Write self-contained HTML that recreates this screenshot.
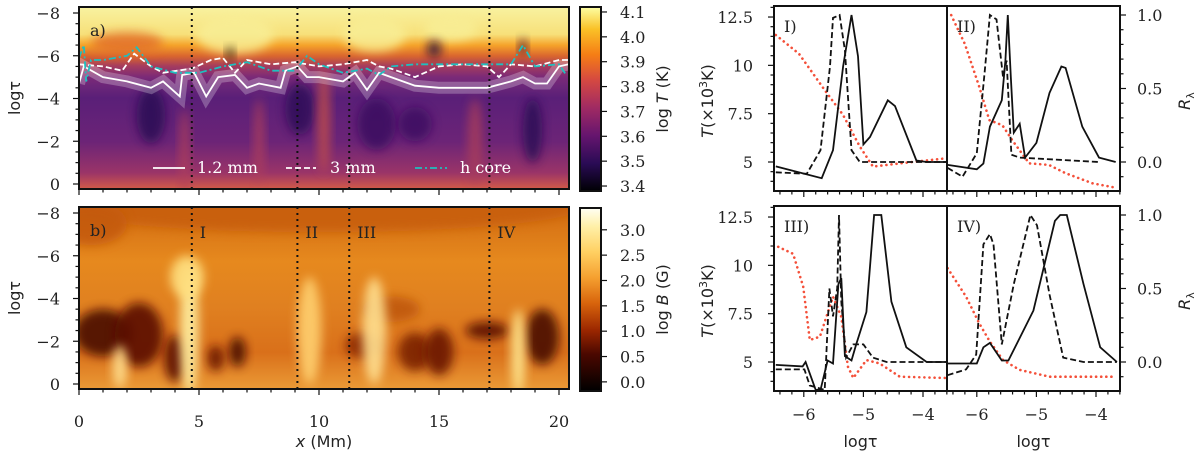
<!DOCTYPE html>
<html><head><meta charset="utf-8"><style>
html,body{margin:0;padding:0;background:#fff;}
svg{display:block;}
text{font-family:"DejaVu Serif","Liberation Serif",serif;font-size:16px;fill:#222;}
.sans{font-family:"DejaVu Sans","Liberation Sans",sans-serif;}
</style></head><body>
<svg id="fig" width="1200" height="460" viewBox="0 0 1200 460" xmlns="http://www.w3.org/2000/svg">
<defs>
<linearGradient id="gA" x1="0" y1="0" x2="0" y2="1">
<stop offset="0" stop-color="#f8f2a0"/><stop offset="0.15" stop-color="#f7e07a"/><stop offset="0.21" stop-color="#f5a32a"/><stop offset="0.27" stop-color="#d9652e"/><stop offset="0.325" stop-color="#a53c5e"/><stop offset="0.385" stop-color="#7b2a78"/><stop offset="0.44" stop-color="#6a2679"/><stop offset="0.5" stop-color="#5a1f78"/><stop offset="0.74" stop-color="#6c2477"/><stop offset="0.91" stop-color="#9a3468"/><stop offset="1" stop-color="#d25a48"/>
</linearGradient>
<linearGradient id="gB" x1="0" y1="0" x2="0" y2="1">
<stop offset="0" stop-color="#d26c12"/><stop offset="0.3" stop-color="#e6891e"/><stop offset="0.55" stop-color="#e08020"/><stop offset="0.8" stop-color="#d9701a"/><stop offset="1" stop-color="#eb9a36"/>
</linearGradient>
<linearGradient id="cbA" x1="0" y1="1" x2="0" y2="0">
<stop offset="0" stop-color="#000004"/><stop offset="0.15" stop-color="#2a0b55"/><stop offset="0.3" stop-color="#65156e"/><stop offset="0.45" stop-color="#9f2a63"/><stop offset="0.6" stop-color="#d44842"/><stop offset="0.74" stop-color="#f57d15"/><stop offset="0.88" stop-color="#fac127"/><stop offset="1" stop-color="#fcffa4"/>
</linearGradient>
<linearGradient id="cbB" x1="0" y1="1" x2="0" y2="0">
<stop offset="0" stop-color="#000000"/><stop offset="0.2" stop-color="#4a0800"/><stop offset="0.33" stop-color="#9a2600"/><stop offset="0.48" stop-color="#d8640c"/><stop offset="0.62" stop-color="#f5a030"/><stop offset="0.76" stop-color="#ffd062"/><stop offset="0.9" stop-color="#fff0a8"/><stop offset="1" stop-color="#fffff4"/>
</linearGradient>
<filter id="blur" x="-50%" y="-50%" width="200%" height="200%"><feGaussianBlur stdDeviation="5"/></filter>
<clipPath id="clipA"><rect x="79" y="7" width="490" height="182"/></clipPath>
<clipPath id="clipB"><rect x="79" y="207" width="490" height="182"/></clipPath>
</defs>
<g id="root"></g>
</svg>
<script>
// ---- Panel a line data (x in Mm, log tau) ----
const mm12X = [0,0.2,1,2,3,3.5,4.2,4.3,4.8,5.3,5.8,6.5,7,7.5,8.4,8.6,9.1,9.5,10,11,11.5,12,12.5,13,14,15,16,17,18,18.5,19,19.5,20,20.4];
const mm12T = [-4.7,-5.5,-5.0,-4.8,-4.5,-4.8,-4.1,-5.1,-5.2,-4.1,-5.0,-5.1,-4.5,-4.7,-4.5,-5.3,-5.5,-5.0,-5.0,-4.8,-5.2,-4.4,-5.2,-5.0,-4.6,-4.5,-4.5,-4.5,-4.8,-5.0,-4.7,-4.7,-5.5,-5.6];
const mm3X = [0,1,1.8,2.3,3,3.5,4.7,5.5,6,6.5,7,8,9,10,11,12,12.5,13,14,15,16,17,17.5,18,19,20,20.4];
const mm3T = [-5.6,-5.5,-5.3,-6.1,-5.5,-5.2,-5.4,-5.8,-5.9,-5.2,-5.8,-5.6,-5.7,-5.5,-5.6,-5.8,-5.5,-5.4,-5.0,-5.5,-5.6,-5.5,-5.0,-5.6,-5.5,-5.8,-5.8];
const hX = [0,0.2,0.3,0.5,1,2,2.4,3,4,5,6,7,8,9,9.5,10,11,12,12.5,13,14,15,17,18,18.5,19,20,20.3];
const hT = [-5.9,-6.5,-4.8,-5.8,-5.8,-6.0,-6.4,-5.5,-5.2,-5.2,-5.5,-5.7,-5.3,-5.3,-6.0,-5.6,-5.2,-5.4,-5.1,-5.5,-5.6,-5.6,-5.6,-5.6,-6.5,-5.5,-5.6,-5.1];
const cutX = [4.7,9.1,11.26,17.1];
const cutNames = ["I","II","III","IV"];
const xTicks = [0,5,10,15,20];
const yTicks = [-8,-6,-4,-2,0];
const cbATicks = [3.4,3.5,3.6,3.7,3.8,3.9,4.0,4.1];
const cbBTicks = [0.0,0.5,1.0,1.5,2.0,2.5,3.0];

// ---- Right panels data (log tau) ----
const p1RedX=[-6.47,-6.08,-5.65,-5.34,-5.06,-4.84,-4.39,-3.61];
const p1RedT=[11.57,10.6,8.72,7.43,5.8,4.76,4.93,5.19];
const p1SolX=[-6.47,-5.70,-5.51,-5.34,-5.20,-5.09,-5.00,-4.89,-4.59,-4.47,-4.11,-3.94,-3.61];
const p1SolR=[-0.03,-0.11,0.08,0.65,1.0,0.72,0.12,0.17,0.42,0.38,0.01,0,0];
const p1DasX=[-6.47,-5.95,-5.72,-5.56,-5.51,-5.40,-5.31,-5.20,-5.06,-3.61];
const p1DasR=[-0.07,-0.08,0.08,0.65,0.98,1.0,0.76,0.08,0.0,0.0];

const p2RedX=[-6.43,-6.2,-5.96,-5.79,-5.57,-5.40,-5.12,-4.79,-4.51,-4.06,-3.67];
const p2RedT=[12.6,11.1,8.9,7.17,6.9,6.1,4.93,4.85,4.42,3.9,3.67];
const p2SolX=[-6.49,-6.0,-5.89,-5.78,-5.58,-5.52,-5.48,-5.43,-5.38,-5.28,-5.19,-5.0,-4.78,-4.58,-4.51,-4.23,-3.95,-3.67];
const p2SolR=[-0.02,-0.05,-0.01,0.24,0.42,0.69,1.0,0.58,0.2,0.26,0.03,0.13,0.47,0.65,0.64,0.24,0.03,0];
const p2DasX=[-6.49,-6.24,-6.0,-5.87,-5.78,-5.67,-5.56,-5.50,-5.42,-5.28,-3.95];
const p2DasR=[-0.04,-0.1,0.06,0.6,1.0,0.97,0.58,0.69,0.05,0.03,0];

const p3RedX=[-6.43,-6.18,-6.01,-5.9,-5.73,-5.51,-5.37,-5.26,-5.17,-4.95,-4.73,-4.39,-3.61];
const p3RedT=[10.96,10.6,8.9,6.14,6.31,8.38,7.34,4.76,4.17,5.1,4.93,4.24,4.17];
const p3SolX=[-6.47,-6.02,-5.97,-5.8,-5.72,-5.6,-5.51,-5.42,-5.37,-5.31,-5.2,-5.12,-4.95,-4.82,-4.7,-4.53,-4.28,-3.94,-3.61];
const p3SolR=[-0.02,-0.03,0,-0.19,-0.19,0.01,-0.01,0.53,0.57,0.04,0.01,0.12,0.34,1.0,1.0,0.41,0.1,0,0];
const p3DasX=[-6.47,-5.99,-5.9,-5.65,-5.57,-5.51,-5.44,-5.41,-5.37,-5.29,-5.17,-5.0,-4.84,-4.61,-3.61];
const p3DasR=[-0.05,-0.05,-0.16,-0.19,0.5,0.31,0.5,1.0,0.41,0.03,0.12,0.12,0.03,0,0];

const p4RedX=[-6.49,-6.18,-5.96,-5.78,-5.56,-5.28,-4.78,-4.22,-3.67];
const p4RedT=[9.85,8.38,7.0,6.05,5.1,4.59,4.24,4.24,4.24];
const p4SolX=[-6.49,-6.0,-5.89,-5.78,-5.58,-5.47,-5.05,-4.69,-4.6,-4.49,-4.21,-3.93,-3.65];
const p4SolR=[-0.01,-0.01,0.1,0.13,0.01,0.01,0.35,0.96,1.0,1.0,0.53,0.1,0];
const p4DasX=[-6.49,-6.18,-6.01,-5.89,-5.78,-5.72,-5.58,-5.38,-5.1,-4.99,-4.78,-4.55,-4.21,-3.65];
const p4DasR=[-0.09,-0.05,0.05,0.8,0.87,0.8,0.12,0.53,1.0,0.93,0.46,0.03,0,0];

const rTicksX=[-6,-5,-4];
const tTicks=[5,7.5,10,12.5];
const rTicks=[0.0,0.5,1.0];

const NS="http://www.w3.org/2000/svg";
const root=document.getElementById('root');
function mk(tag,attrs,parent){const e=document.createElementNS(NS,tag);for(const k in attrs)e.setAttribute(k,attrs[k]);(parent||root).appendChild(e);return e;}
function txt(s,x,y,anchor,parent,cls){const t=mk('text',{x:x,y:y,'text-anchor':anchor||'start'},parent);if(cls)t.setAttribute('class',cls);t.textContent=s;return t;}
function fmt(v,d){let s=v.toFixed(d);return s.replace('-','\u2212');}

const L0=79;
const sx=x=>L0+24*x;
const syA=t=>184+21.375*t;
const syB=t=>384+21.375*t;

// ---------- Panel a heatmap ----------
const gA=mk('g',{'clip-path':'url(#clipA)'});


mk('rect',{x:79,y:7,width:490,height:182,fill:'url(#gA)'},gA);
const blobsA=[[6.5,-7,1.6,0.9,'#f8ee95'],[12.3,-7,1.3,0.8,'#f8ee95'],[15.5,-7.3,1.1,0.6,'#f8ee95'],[2,-6.6,1.5,0.5,'#e2702a'],[3,-3.2,0.6,1.3,'#2a0a55'],[9.2,-3.5,0.6,1.2,'#2d0b58'],[12.4,-2.8,0.8,1.2,'#3a0f60'],[18.9,-2.5,0.4,1.5,'#2a0a55'],[14,-2.8,0.7,0.8,'#3d1062'],[10.2,-3,0.25,2.5,'#c4504a'],[7.5,-2,0.2,2,'#b0405a'],[4.4,-1.5,0.2,2,'#b0405a'],[16.5,-2,0.3,2,'#a83c5c'],[6.3,-6.1,0.15,0.3,'#100010'],[14.8,-6.3,0.3,0.4,'#2a0a40'],[18.5,-6.4,0.15,0.4,'#2a0a40']];
blobsA.forEach(b=>mk('ellipse',{cx:sx(b[0]),cy:syA(b[1]),rx:b[2]*24,ry:b[3]*21.4,fill:b[4],filter:'url(#blur)',opacity:0.85},gA));

// ---------- Panel b heatmap ----------
const gB=mk('g',{'clip-path':'url(#clipB)'});


mk('rect',{x:79,y:207,width:490,height:182,fill:'url(#gB)'},gB);
const blobsB=[[10,-8.3,11,1.2,'#c85e0a'],[1.0,-2.4,1.2,1.1,'#4a0800'],[2.5,-2.3,1.0,1.5,'#5a0c00'],[4.0,-1.2,0.45,1.1,'#5a0c00'],[6.6,-1.5,0.35,0.7,'#4a0800'],[5.7,-1.2,0.35,0.6,'#6a1400'],[11.8,-1.8,0.7,0.6,'#8a2804'],[14,-1.5,0.7,0.9,'#7a2000'],[15,-1.5,0.6,1.1,'#6a1800'],[17,-2.5,0.9,0.4,'#5a1000'],[19.3,-2.2,0.7,1.3,'#4a0800'],[13,-3.5,1.2,0.6,'#c0580e'],[4.6,-2.5,0.4,3,'#fff0a0'],[4.5,-5,0.7,1.0,'#ffe080'],[9.6,-2.5,0.5,2.5,'#ffd070'],[12.3,-2.5,0.5,2.5,'#ffe090'],[18.3,-1.5,0.3,2,'#ffe890'],[1.7,-0.8,0.3,1,'#ffe090'],[0.5,-7.5,1.5,1,'#c45a0a']];
blobsB.forEach(b=>mk('ellipse',{cx:sx(b[0]),cy:syB(b[1]),rx:b[2]*24,ry:b[3]*21.4,fill:b[4],filter:'url(#blur)',opacity:0.9},gB));

// ---------- lines in panel a ----------
function pathFrom(xs,ys,fx,fy){return xs.map((x,i)=>(i?'L':'M')+fx(x).toFixed(1)+','+fy(ys[i]).toFixed(1)).join(' ');}
const shade=mk('path',{d:pathFrom(mm12X,mm12T,sx,syA),fill:'none',stroke:'#ffffff','stroke-opacity':0.25,'stroke-width':12,'clip-path':'url(#clipA)'});


const l12=mk('path',{d:pathFrom(mm12X,mm12T,sx,syA),fill:'none',stroke:'#fff','stroke-width':1.8,'clip-path':'url(#clipA)'});


const l3=mk('path',{d:pathFrom(mm3X,mm3T,sx,syA),fill:'none',stroke:'#fff','stroke-width':1.8,'stroke-dasharray':'6,3','clip-path':'url(#clipA)'});


const lh=mk('path',{d:pathFrom(hX,hT,sx,syA),fill:'none',stroke:'#1fbfbf','stroke-width':1.8,'stroke-dasharray':'7,3,2,3','clip-path':'url(#clipA)'});



// legend
const leg=mk('g',{});


mk('line',{x1:153,y1:168,x2:185,y2:168,stroke:'#fff','stroke-width':1.8},leg);
txt('1.2 mm',197,173,'start',leg);
mk('line',{x1:286,y1:168,x2:316,y2:168,stroke:'#fff','stroke-width':1.8,'stroke-dasharray':'6,3'},leg);
txt('3 mm',330,173,'start',leg);
mk('line',{x1:415,y1:168,x2:447,y2:168,stroke:'#1fbfbf','stroke-width':1.8,'stroke-dasharray':'7,3,2,3'},leg);
txt('h core',460,173,'start',leg);
leg.querySelectorAll('text').forEach(t=>t.style.fill='#fff');

// cut lines
cutX.forEach((c,i)=>{
  const l=mk('line',{x1:sx(c),y1:7,x2:sx(c),y2:189,stroke:'#111','stroke-width':2,'stroke-dasharray':'2,4'});
  
  
  const l2=mk('line',{x1:sx(c),y1:207,x2:sx(c),y2:389,stroke:'#111','stroke-width':2,'stroke-dasharray':'2,4'});
  
  
  const t=txt(cutNames[i],sx(c)+8,238,'start');
  
  
});

// frames and ticks left
[[7,syA,'a'],[207,syB,'b']].forEach(([top,fy,nm])=>{
  const f=mk('rect',{x:79,y:top,width:490,height:182,fill:'none',stroke:'#111','stroke-width':2});
  
  
  for(let v=-8;v<=0.01;v+=0.5){const maj=Math.abs(v-Math.round(v/2)*2)<0.01;mk('line',{x1:79,x2:79-(maj?6:3.5),y1:fy(v),y2:fy(v),stroke:'#111','stroke-width':1.2});}
  yTicks.forEach(v=>{const t=txt(fmt(v,0),60,fy(v)+6,'end');});
  for(let x=0;x<=20;x++){const maj=x%5===0;mk('line',{x1:sx(x),x2:sx(x),y1:top+182,y2:top+182+(maj?6:3.5),stroke:'#111','stroke-width':1.2});}
  const yl=txt('log\u03c4',0,0,'middle',null,'sans');
  yl.setAttribute('transform','translate(20,'+(top+91)+') rotate(-90)');
  
  
});
const la=txt('a)',90,36,'start');


const lb=txt('b)',90,236,'start');


xTicks.forEach(v=>{const t=txt(String(v),sx(v),427,'middle');});
const xt=mk('text',{x:324,y:447,'text-anchor':'middle',class:'sans'});
xt.innerHTML='<tspan font-style="italic">x</tspan> (Mm)';



// colorbars
function colorbar(top,bot,lo,hi,ticks,grad,label,nm){
  const g=mk('g',{});
  
  
  mk('rect',{x:580,y:top,width:21,height:bot-top,fill:'url(#'+grad+')',stroke:'#111','stroke-width':2},g);
  const fy=v=>bot-(v-lo)/(hi-lo)*(bot-top);
  ticks.forEach(v=>{mk('line',{x1:601,x2:607,y1:fy(v),y2:fy(v),stroke:'#111','stroke-width':1.2},g);txt(v.toFixed(1),620,fy(v)+6,'start',g);});
  const t=mk('text',{'text-anchor':'middle',class:'sans',transform:'translate(668,'+((top+bot)/2)+') rotate(-90)'},g);
  t.innerHTML=label;
}
colorbar(7,191,3.38,4.12,cbATicks,'cbA','log <tspan font-style="italic">T</tspan> (K)','temperature');
colorbar(208,391,-0.18,3.43,cbBTicks,'cbB','log <tspan font-style="italic">B</tspan> (G)','magnetic-field');

// ---------- right panels ----------
const RX=[774,947], RW=173, RT=[6,206], RH=185;
const rx=(v,c)=>RX[c]+(v+6.5)*59.6;
const ryT=(T,r)=>RT[r]+156-(T-5)*19.33;
const ryR=(R,r)=>RT[r]+156-R*147;
const panels=[
 ['I)',0,0,p1RedX,p1RedT,p1SolX,p1SolR,p1DasX,p1DasR],
 ['II)',1,0,p2RedX,p2RedT,p2SolX,p2SolR,p2DasX,p2DasR],
 ['III)',0,1,p3RedX,p3RedT,p3SolX,p3SolR,p3DasX,p3DasR],
 ['IV)',1,1,p4RedX,p4RedT,p4SolX,p4SolR,p4DasX,p4DasR]];
panels.forEach(p=>{
  const [lab,c,r,redX,redT,solX,solR,dasX,dasR]=p;
  const id='clip'+c+r;
  const cp=mk('clipPath',{id:id});mk('rect',{x:RX[c],y:RT[r],width:RW,height:RH},cp);
  const g=mk('g',{'clip-path':'url(#'+id+')'});
  
  
  const red=mk('path',{d:pathFrom(redX,redT,v=>rx(v,c),v=>ryT(v,r)),fill:'none',stroke:'#f4503a','stroke-width':2.6,'stroke-dasharray':'0.1,5','stroke-linecap':'round'},g);
  
  
  const sol=mk('path',{d:pathFrom(solX,solR,v=>rx(v,c),v=>ryR(v,r)),fill:'none',stroke:'#111','stroke-width':1.8},g);
  
  
  const das=mk('path',{d:pathFrom(dasX,dasR,v=>rx(v,c),v=>ryR(v,r)),fill:'none',stroke:'#111','stroke-width':1.8,'stroke-dasharray':'6,3'},g);
  
  
  const fr=mk('rect',{x:RX[c],y:RT[r],width:RW,height:RH,fill:'none',stroke:'#111','stroke-width':2});
  
  
  const pl=txt(lab,RX[c]+10,RT[r]+26,'start');
  
  
  for(let v=-6.4;v<=-3.55;v+=0.2){const maj=Math.abs(v-Math.round(v))<0.01;mk('line',{x1:rx(v,c),x2:rx(v,c),y1:RT[r]+RH,y2:RT[r]+RH+(maj?6:3.5),stroke:'#111','stroke-width':1.2});}
  if(r===1){
    rTicksX.forEach(v=>{const t=txt(fmt(v,0),rx(v,c),420,'middle');});
    const xl=txt('log\u03c4',RX[c]+RW/2,447,'middle',null,'sans');
    
    
  }
  if(c===0){
    for(let v=4;v<=13;v+=0.5){const maj=tTicks.includes(v);mk('line',{x1:RX[0],x2:RX[0]-(maj?6:3.5),y1:ryT(v,r),y2:ryT(v,r),stroke:'#111','stroke-width':1.2});}
    tTicks.forEach(v=>{const t=txt(String(v),753,ryT(v,r)+6,'end');});
    const yl=mk('text',{'text-anchor':'middle',class:'sans',transform:'translate(713,'+(RT[r]+95)+') rotate(-90)'});
    yl.innerHTML='<tspan font-style="italic">T</tspan>(\u00d710<tspan font-size="11" dy="-6">3</tspan><tspan dy="6">K)</tspan>';
    
    
  } else {
    const xr=RX[1]+RW;
    for(let v=-0.1;v<=1.001;v+=0.1){const maj=rTicks.some(t=>Math.abs(t-v)<0.01);mk('line',{x1:xr,x2:xr+(maj?6:3.5),y1:ryR(v,r),y2:ryR(v,r),stroke:'#111','stroke-width':1.2});}
    rTicks.forEach(v=>{const t=txt(v.toFixed(1),1137,ryR(v,r)+6,'start');});
    const yl=mk('text',{'text-anchor':'middle',class:'sans',transform:'translate(1190,'+(RT[r]+95)+') rotate(-90)'});
    yl.innerHTML='<tspan font-style="italic">R</tspan><tspan font-size="11" dy="4">\u03bb</tspan>';
    
    
  }
});
</script>
</body></html>
